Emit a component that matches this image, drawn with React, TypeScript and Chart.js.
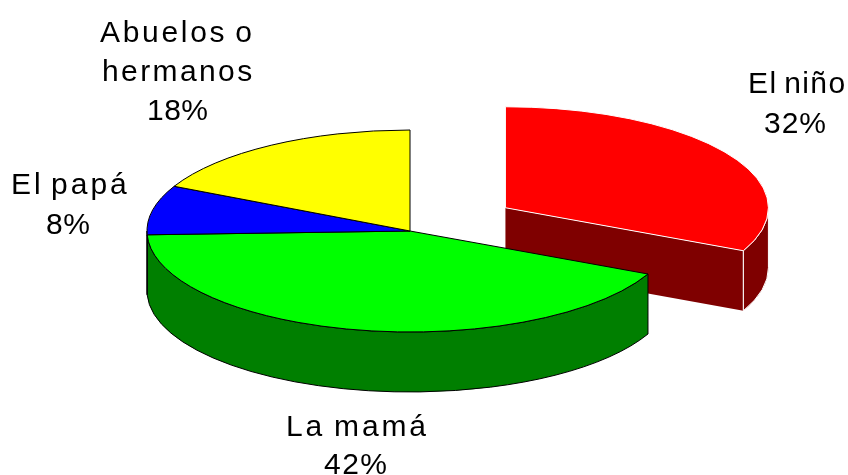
import React, { useEffect, useRef } from "react";
import { Chart, registerables } from "chart.js";

Chart.register(...registerables);

// ---- data ----
const categories = [["El niño"], ["La mamá"], ["El papá"], ["Abuelos o", "hermanos"]];
const shares = [32, 42.4, 7.9, 17.7];
const topColors = ["#ff0000", "#00ff00", "#0000ff", "#ffff00"];
const wallColors = ["#7f0000", "#007f00", "#00007f", "#7f7f00"];
const edgeColors = ["#ffffff", "#000000", "#000000", "#000000"];
const explode = [113, 0, 0, 0];

// ---- presentation ----
const SQUASH = 0.384;
const DEPTH = 60;
const FONT = '30px "Liberation Sans", Arial, sans-serif';
// one entry per text line of each category: left x, baseline y, letter spacing, word spacing
const textLayout = [
  [[748, 93, 1.4, -3], [764, 133, 1, 0]],
  [[286, 436, 2.8, -2], [324, 474, 1.5, 0]],
  [[11, 194, 3, -4], [46, 234, 0.5, 0]],
  [[100, 41.5, 2.7, -3], [102, 81, 2.4, 0], [147, 120, 0.5, 0]],
];

const pie3d = {
  id: "pie3d",
  beforeDatasetDraw(chart: any, args: any) {
    const ctx = chart.ctx;
    const arcs = args.meta.data;
    arcs.forEach((arc: any, i: number) => {
      const mid = (arc.startAngle + arc.endAngle) / 2;
      const cx = arc.x + Math.cos(mid) * explode[i];
      const cy = arc.y + Math.sin(mid) * explode[i] * SQUASH;
      const R = arc.outerRadius;
      const b = R * SQUASH;
      ctx.save();
      ctx.lineWidth = 1;
      ctx.lineJoin = "round";
      ctx.strokeStyle = edgeColors[i];
      ctx.fillStyle = wallColors[i];

      // cut face of an exploded slice
      if (explode[i] > 0) {
        const ex = cx + Math.cos(arc.endAngle) * R;
        const ey = cy + Math.sin(arc.endAngle) * b;
        ctx.beginPath();
        ctx.moveTo(cx, cy);
        ctx.lineTo(ex, ey);
        ctx.lineTo(ex, ey + DEPTH);
        ctx.lineTo(cx, cy + DEPTH);
        ctx.closePath();
        ctx.fill();
        ctx.beginPath();
        ctx.moveTo(ex, ey);
        ctx.lineTo(ex, ey + DEPTH);
        ctx.stroke();
      }

      // outer wall (front half of the ellipse only)
      const from = Math.max(arc.startAngle, 0);
      const to = Math.min(arc.endAngle, Math.PI);
      if (to > from) {
        ctx.beginPath();
        ctx.ellipse(cx, cy, R, b, 0, from, to);
        ctx.lineTo(cx + Math.cos(to) * R, cy + Math.sin(to) * b + DEPTH);
        ctx.ellipse(cx, cy + DEPTH, R, b, 0, to, from, true);
        ctx.closePath();
        ctx.fill();
        ctx.stroke();
      }

      // top face, drawn by the library's arc element
      ctx.save();
      ctx.translate(cx - arc.x, cy);
      ctx.scale(1, SQUASH);
      ctx.translate(0, -arc.y);
      arc.draw(ctx);
      ctx.restore();

      // 1px outline of the top face
      ctx.beginPath();
      ctx.moveTo(cx, cy);
      ctx.ellipse(cx, cy, R, b, 0, arc.startAngle, arc.endAngle);
      ctx.closePath();
      ctx.stroke();
      ctx.restore();
    });
    return false;
  },
  afterDatasetsDraw(chart: any) {
    const ctx = chart.ctx;
    ctx.save();
    ctx.font = FONT;
    ctx.fillStyle = "#000000";
    ctx.textAlign = "left";
    ctx.textBaseline = "alphabetic";
    categories.forEach((lines, i) => {
      [...lines, `${Math.round(shares[i])}%`].forEach((line, j) => {
        const [x, y, spacing, words] = textLayout[i][j];
        ctx.letterSpacing = `${spacing}px`;
        ctx.wordSpacing = `${words}px`;
        ctx.fillText(line, x, y);
      });
    });
    ctx.restore();
  },
};

export default function App() {
  const ref = useRef<HTMLCanvasElement>(null);
  useEffect(() => {
    const chart = new Chart(ref.current as HTMLCanvasElement, {
      type: "pie",
      data: {
        labels: categories.map((c) => c.join(" ")),
        datasets: [
          {
            data: shares,
            backgroundColor: topColors,
            borderWidth: 0,
            radius: 263,
          } as any,
        ],
      },
      options: {
        responsive: false,
        animation: false,
        layout: { padding: { left: 0, top: 0, right: 28, bottom: 13 } },
        plugins: { legend: { display: false }, tooltip: { enabled: false } },
      },
      plugins: [pie3d],
    } as any);
    return () => chart.destroy();
  }, []);
  return (
    <div style={{ position: "absolute", left: 0, top: 0, width: 848, height: 475, background: "#fff", overflow: "hidden" }}>
      <canvas ref={ref} width={848} height={475} style={{ display: "block" }} />
    </div>
  );
}
